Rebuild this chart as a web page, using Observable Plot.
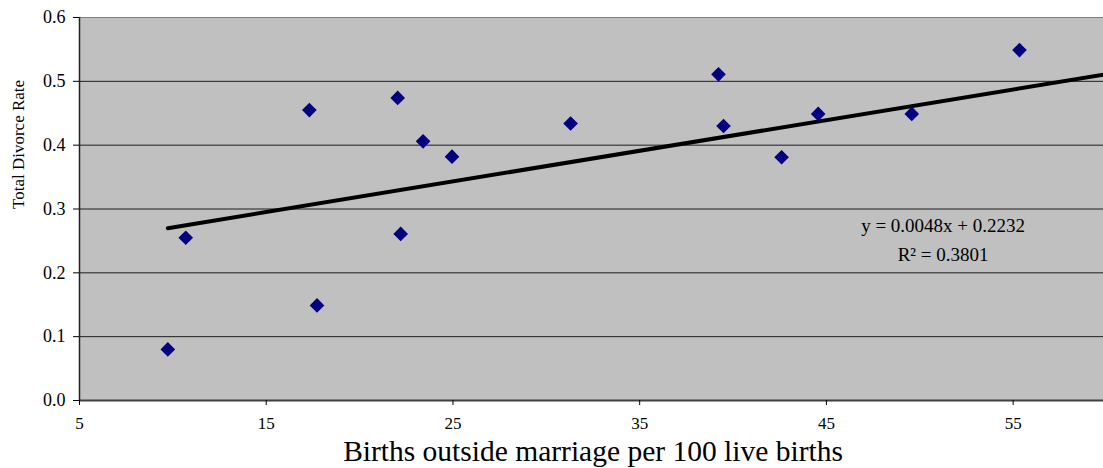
<!DOCTYPE html>
<html>
<head>
<meta charset="utf-8">
<script src="https://cdn.jsdelivr.net/npm/d3@7"></script>
<script src="https://cdn.jsdelivr.net/npm/@observablehq/plot@0.6"></script>
<style>
  html, body { margin: 0; padding: 0; background: #fff; }
  #chart svg { display: block; }
</style>
</head>
<body>
<div id="chart"></div>
<script>
// Births outside marriage per 100 live births (x) vs Total Divorce Rate (y)
const birthsOutside = [9.73, 10.69, 17.31, 17.72, 22.04, 22.20, 23.40, 24.95, 31.30, 39.22, 39.49, 42.60, 44.56, 49.57, 55.34];
const divorceRate   = [0.080, 0.255, 0.455, 0.149, 0.474, 0.261, 0.406, 0.382, 0.434, 0.511, 0.430, 0.381, 0.449, 0.449, 0.549];

// Trendline reported on the chart
const slope = 0.0048;
const intercept = 0.2232;
const trendX = [9.73, 60];
const equationLines = ["y = 0.0048x + 0.2232", "R² = 0.3801"];
const equationX = [51.25, 51.25];
const equationY = [0.2737, 0.2282];

const xTicks = [5, 15, 25, 35, 45, 55];
const yTicks = [0, 0.1, 0.2, 0.3, 0.4, 0.5, 0.6];
const xTitle = "Births outside marriage per 100 live births";
const yTitle = "Total Divorce Rate";

const points = birthsOutside.map((x, i) => ({x, y: divorceRate[i]}));
const trend = trendX.map(x => ({x, y: slope * x + intercept}));
const equation = equationLines.map((text, i) => ({text, x: equationX[i], y: equationY[i]}));

const font = "'Liberation Serif', 'Times New Roman', serif";

const chart = Plot.plot({
  width: 1103,
  height: 468,
  marginLeft: 79,
  marginRight: -3,
  marginTop: 17,
  marginBottom: 68,
  style: {fontFamily: font, background: "#fff", color: "#000"},
  x: {domain: [5, 60]},
  y: {domain: [0, 0.6]},
  marks: [
    Plot.frame({fill: "#c0c0c0", stroke: "#808080"}),
    Plot.gridY(yTicks.filter(d => d > 0 && d < 0.6), {stroke: "#000", strokeOpacity: 0.85, strokeWidth: 1}),
    Plot.ruleY([0], {stroke: "#404040", strokeWidth: 2}),
    Plot.ruleX([5], {stroke: "#202020", strokeWidth: 1.5}),
    Plot.axisY({ticks: yTicks, tickFormat: d3.format(".1f"), tickSize: 6, tickPadding: 8, fontSize: 18, label: null, stroke: "#000"}),
    Plot.axisX({ticks: xTicks, tickFormat: d => String(d), tickSize: 5, tickPadding: 11, fontSize: 17, label: null, stroke: "#000"}),
    Plot.line(trend, {x: "x", y: "y", stroke: "#000", strokeWidth: 4}),
    Plot.dot(points, {x: "x", y: "y", symbol: "diamond2", r: 6.6, fill: "#000080", stroke: "none"}),
    Plot.text(equation, {x: "x", y: "y", text: "text", fontSize: 19, fill: "#000", lineAnchor: "middle"}),
    Plot.text([xTitle], {frameAnchor: "bottom", dy: 51, fontSize: 29.5, fill: "#000", lineAnchor: "middle"}),
    Plot.text([yTitle], {frameAnchor: "left", dx: -61, rotate: -90, fontSize: 17, fill: "#000", lineAnchor: "middle"})
  ]
});
document.getElementById("chart").appendChild(chart);
</script>
</body>
</html>
